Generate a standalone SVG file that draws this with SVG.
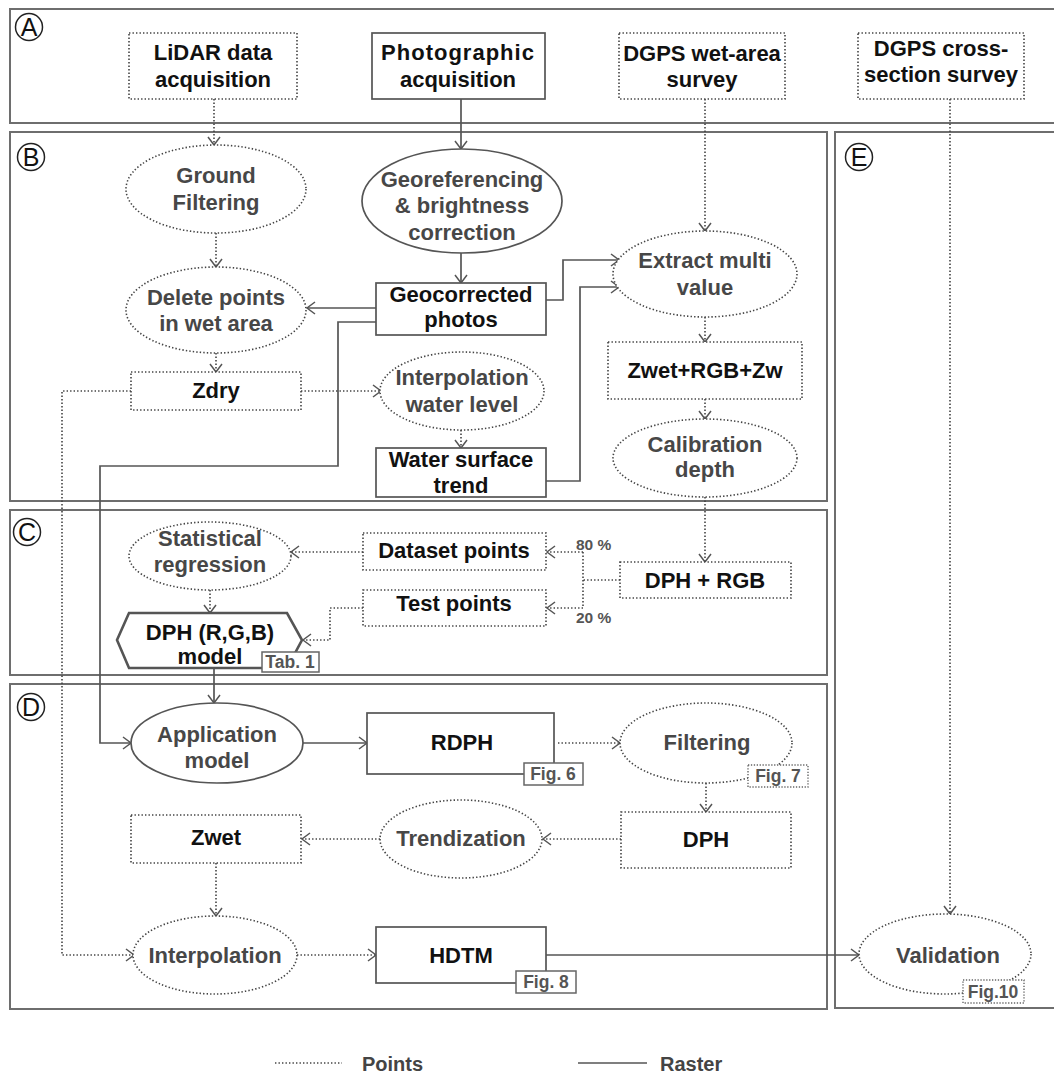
<svg xmlns="http://www.w3.org/2000/svg" width="1054" height="1076" viewBox="0 0 1054 1076">
<defs>
<style>
.sec{fill:none;stroke:#6e6e6e;stroke-width:2}
.dot{fill:#fff;stroke:#444;stroke-width:1.6;stroke-dasharray:1.4 2.1}
.sol{fill:#fff;stroke:#555;stroke-width:1.7}
.hex{fill:#fff;stroke:#555;stroke-width:2.6;stroke-linejoin:miter}
.cd{fill:none;stroke:#444;stroke-width:1.6;stroke-dasharray:1.4 2.1;marker-end:url(#ah)}
.cdn{fill:none;stroke:#444;stroke-width:1.6;stroke-dasharray:1.4 2.1}
.cs{fill:none;stroke:#555;stroke-width:1.7;marker-end:url(#ah)}
.t{font-family:"Liberation Sans",Arial,Helvetica,sans-serif;font-weight:bold;font-size:22px;text-anchor:middle}
.tb{fill:#111}
.tg{fill:#474747}
.fig{font-family:"Liberation Sans",Arial,sans-serif;font-weight:bold;font-size:17.5px;fill:#555;text-anchor:middle}
.pct{font-family:"Liberation Sans",Arial,sans-serif;font-weight:bold;font-size:15.5px;fill:#555}
.figbox{fill:#fff;stroke:#666;stroke-width:1.5}
.figdot{fill:#fff;stroke:#666;stroke-width:1.4;stroke-dasharray:1.3 1.6}
.lc{fill:none;stroke:#222;stroke-width:1.5}
.lt{font-family:"Liberation Sans",Arial,sans-serif;font-size:25px;fill:#111;text-anchor:middle}
.leg{font-family:"Liberation Sans",Arial,sans-serif;font-weight:bold;font-size:20px;fill:#444}
</style>
<marker id="ah" markerUnits="userSpaceOnUse" markerWidth="12" markerHeight="16" refX="9" refY="7" orient="auto">
<path d="M1,1 L9,7 L1,13" fill="none" stroke="#555" stroke-width="1.5"/>
</marker>
</defs>
<rect width="1054" height="1076" fill="#fff"/>

<g id="sections">
<rect id="secA" class="sec" x="10" y="9" width="1070" height="114"/>
<rect id="secB" class="sec" x="10" y="132" width="817" height="369"/>
<rect id="secC" class="sec" x="10" y="510" width="817" height="165"/>
<rect id="secD" class="sec" x="10" y="684" width="817" height="325"/>
<rect id="secE" class="sec" x="835" y="132" width="240" height="876"/>
<g id="labA"><circle class="lc" cx="29" cy="27" r="13.5"/><text class="lt" x="29" y="36">A</text></g>
<g id="labB"><circle class="lc" cx="31" cy="157" r="13.5"/><text class="lt" x="31" y="166">B</text></g>
<g id="labC"><circle class="lc" cx="27" cy="532" r="13.5"/><text class="lt" x="27" y="541">C</text></g>
<g id="labD"><circle class="lc" cx="31" cy="707" r="13.5"/><text class="lt" x="31" y="716">D</text></g>
<g id="labE"><circle class="lc" cx="859" cy="157" r="13.5"/><text class="lt" x="859" y="166">E</text></g>
</g>

<g id="connectors">
<path class="cd" d="M214,99 V145"/>
<path class="cs" d="M461,99 V149"/>
<path class="cs" d="M461,253 V283"/>
<path class="cs" d="M376,308 H307"/>
<path class="cs" d="M376,322 H338 V466 H100 V743 H131"/>
<path class="cd" d="M216,233 V267"/>
<path class="cd" d="M216,353 V372"/>
<path class="cd" d="M301,391 H381"/>
<path class="cd" d="M131,391 H62 V955 H134"/>
<path class="cd" d="M461,430 V448"/>
<path class="cs" d="M546,300 H563 V260 H619"/>
<path class="cs" d="M546,481 H580 V287 H619"/>
<path class="cd" d="M705,99 V231"/>
<path class="cd" d="M705,317 V342"/>
<path class="cd" d="M705,399 V419"/>
<path class="cd" d="M705,497 V562"/>
<path class="cdn" d="M620,580 H583 M583,552 V608"/>
<path class="cd" d="M583,552 H547"/>
<path class="cd" d="M583,608 H547"/>
<path class="cd" d="M363,552 H291"/>
<path class="cd" d="M210,590 V613"/>
<path class="cd" d="M363,608 H330 V640 H303"/>
<path class="cs" d="M214,668 V703"/>
<path class="cs" d="M303,743 H367"/>
<path class="cd" d="M558,743 H620"/>
<path class="cd" d="M706,783 V812"/>
<path class="cd" d="M621,839 H543"/>
<path class="cd" d="M380,839 H302"/>
<path class="cd" d="M216,863 V916"/>
<path class="cd" d="M297,955 H376"/>
<path class="cs" d="M546,955 H859"/>
<path class="cd" d="M950,99 V914"/>
</g>

<g id="n-lidar"><rect class="dot" x="129" y="33" width="168" height="66"/><text class="t tb" x="213" y="60">LiDAR data</text><text class="t tb" x="213" y="87">acquisition</text></g>
<g id="n-photo"><rect class="sol" x="372" y="33" width="173" height="66"/><text class="t tb" x="458" y="60" letter-spacing="1">Photographic</text><text class="t tb" x="458" y="87">acquisition</text></g>
<g id="n-dgpswet"><rect class="dot" x="619" y="33" width="166" height="66"/><text class="t tb" x="702" y="61">DGPS wet-area</text><text class="t tb" x="702" y="87">survey</text></g>
<g id="n-dgpscross"><rect class="dot" x="858" y="33" width="166" height="66"/><text class="t tb" x="941" y="56">DGPS cross-</text><text class="t tb" x="941" y="82">section survey</text></g>

<g id="n-ground"><ellipse class="dot" cx="216" cy="189" rx="90" ry="44"/><text class="t tg" x="216" y="183">Ground</text><text class="t tg" x="216" y="210">Filtering</text></g>
<g id="n-georef"><ellipse class="sol" cx="462" cy="201" rx="100" ry="52"/><text class="t tg" x="462" y="187">Georeferencing</text><text class="t tg" x="462" y="213">&amp; brightness</text><text class="t tg" x="462" y="240">correction</text></g>
<g id="n-geocorr"><rect class="sol" x="376" y="283" width="170" height="52"/><text class="t tb" x="461" y="302">Geocorrected</text><text class="t tb" x="461" y="327">photos</text></g>
<g id="n-delete"><ellipse class="dot" cx="216" cy="310" rx="90" ry="43"/><text class="t tg" x="216" y="305">Delete points</text><text class="t tg" x="216" y="331">in wet area</text></g>
<g id="n-zdry"><rect class="dot" x="131" y="372" width="170" height="38"/><text class="t tb" x="216" y="398">Zdry</text></g>
<g id="n-interpwl"><ellipse class="dot" cx="462" cy="391" rx="82" ry="39"/><text class="t tg" x="462" y="385">Interpolation</text><text class="t tg" x="462" y="412">water level</text></g>
<g id="n-wst"><rect class="sol" x="376" y="448" width="170" height="49"/><text class="t tb" x="461" y="467">Water surface</text><text class="t tb" x="461" y="493">trend</text></g>
<g id="n-extract"><ellipse class="dot" cx="705" cy="274" rx="92" ry="43"/><text class="t tg" x="705" y="268">Extract multi</text><text class="t tg" x="705" y="295">value</text></g>
<g id="n-zwetrgb"><rect class="dot" x="608" y="342" width="194" height="57"/><text class="t tb" x="705" y="378">Zwet+RGB+Zw</text></g>
<g id="n-calib"><ellipse class="dot" cx="705" cy="458" rx="92" ry="39"/><text class="t tg" x="705" y="452">Calibration</text><text class="t tg" x="705" y="477">depth</text></g>

<g id="n-stat"><ellipse class="dot" cx="210" cy="556" rx="81" ry="34"/><text class="t tg" x="210" y="546">Statistical</text><text class="t tg" x="210" y="572">regression</text></g>
<g id="n-dataset"><rect class="dot" x="363" y="533" width="183" height="37"/><text class="t tb" x="454" y="558">Dataset points</text></g>
<g id="n-test"><rect class="dot" x="363" y="590" width="183" height="36"/><text class="t tb" x="454" y="611">Test points</text></g>
<g id="n-dphrgb"><rect class="dot" x="620" y="562" width="171" height="36"/><text class="t tb" x="705" y="588">DPH + RGB</text></g>
<g id="n-pct"><text class="pct" x="576" y="550">80 %</text><text class="pct" x="576" y="623">20 %</text></g>
<g id="n-model"><polygon class="hex" points="129,613 287,613 302,640 287,668 129,668 117,640"/><text class="t tb" x="210" y="640">DPH (R,G,B)</text><text class="t tb" x="210" y="664">model</text><rect class="figbox" x="262" y="652" width="57" height="20"/><text class="fig" x="290" y="668">Tab. 1</text></g>

<g id="n-app"><ellipse class="sol" cx="217" cy="743" rx="86" ry="40"/><text class="t tg" x="217" y="742">Application</text><text class="t tg" x="217" y="768">model</text></g>
<g id="n-rdph"><rect class="sol" x="367" y="713" width="187" height="61"/><text class="t tb" x="462" y="750">RDPH</text><rect class="figbox" x="524" y="763" width="59" height="22"/><text class="fig" x="553" y="780">Fig. 6</text></g>
<g id="n-filter"><ellipse class="dot" cx="706" cy="743" rx="86" ry="40"/><text class="t tg" x="707" y="750">Filtering</text><rect class="figdot" x="748" y="765" width="60" height="22"/><text class="fig" x="778" y="782">Fig. 7</text></g>
<g id="n-dph"><rect class="dot" x="621" y="812" width="170" height="56"/><text class="t tb" x="706" y="847">DPH</text></g>
<g id="n-trend"><ellipse class="dot" cx="461" cy="839" rx="81" ry="39"/><text class="t tg" x="461" y="846">Trendization</text></g>
<g id="n-zwet"><rect class="dot" x="131" y="815" width="170" height="48"/><text class="t tb" x="216" y="845">Zwet</text></g>
<g id="n-interp"><ellipse class="dot" cx="215" cy="955" rx="82" ry="39"/><text class="t tg" x="215" y="963">Interpolation</text></g>
<g id="n-hdtm"><rect class="sol" x="376" y="927" width="170" height="56"/><text class="t tb" x="461" y="963">HDTM</text><rect class="figbox" x="516" y="971" width="60" height="22"/><text class="fig" x="546" y="988">Fig. 8</text></g>
<g id="n-valid"><ellipse class="dot" cx="945" cy="954" rx="86" ry="40"/><text class="t tg" x="948" y="963">Validation</text><rect class="figdot" x="963" y="980" width="61" height="23"/><text class="fig" x="993" y="998">Fig.10</text></g>

<g id="legend">
<path class="cdn" d="M275,1063 H342"/>
<text class="leg" x="362" y="1071">Points</text>
<path d="M578,1063 H647" stroke="#555" stroke-width="1.6" fill="none"/>
<text class="leg" x="660" y="1071">Raster</text>
</g>
</svg>
